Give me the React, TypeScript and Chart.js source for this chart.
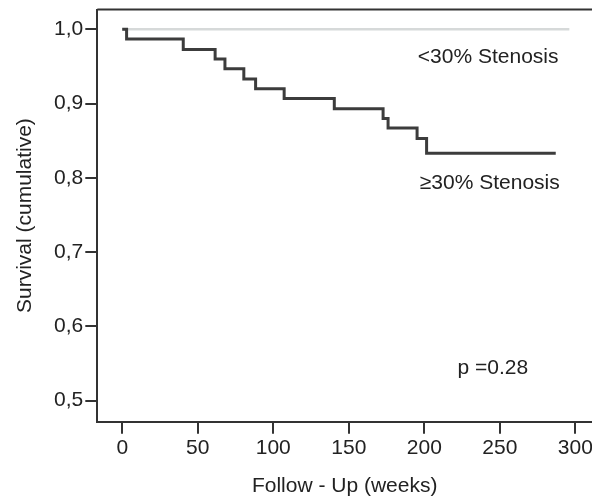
import React, { useEffect, useRef } from "react";
import { Chart, registerables } from "chart.js";

Chart.register(...registerables);

// ≥30% stenosis group: event times (weeks) and cumulative survival after each event
const highWeeks = [0, 2.9, 40.4, 61.5, 68, 80.5, 88.3, 107.2, 140.4, 172.7, 176, 195.2, 201.5];
const highSurvival = [1.0, 0.987, 0.973, 0.96, 0.947, 0.933, 0.92, 0.907, 0.893, 0.88, 0.867, 0.853, 0.833];
const highLastWeek = 287;

// <30% stenosis group: no events
const lowWeeks = [0, 296];
const lowSurvival = [1.0, 1.0];

const xTicks = [0, 50, 100, 150, 200, 250, 300];
const yTicks = [0.5, 0.6, 0.7, 0.8, 0.9, 1.0];

const noteTexts = ["<30% Stenosis", "\u226530% Stenosis", "p =0.28"];
const noteWeeks = [195.7, 197, 222];
const noteSurvival = [0.963, 0.793, 0.5436];

const FONT = "'Liberation Sans', Arial, sans-serif";
const TEXT = "#222222";
const AXIS = "#333333";

function stepPoints(weeks: number[], surv: number[], lastWeek: number) {
  const pts: { x: number; y: number }[] = [];
  for (let i = 0; i < weeks.length; i++) {
    if (i > 0) pts.push({ x: weeks[i], y: surv[i - 1] });
    pts.push({ x: weeks[i], y: surv[i] });
  }
  pts.push({ x: lastWeek, y: surv[surv.length - 1] });
  return pts;
}

const framePlugin = {
  id: "frameAndNotes",
  afterDatasetsDraw(chart: any) {
    const { ctx, chartArea, scales } = chart;
    ctx.save();
    ctx.strokeStyle = AXIS;
    ctx.lineWidth = 2;
    ctx.beginPath();
    ctx.moveTo(chartArea.left, chartArea.top);
    ctx.lineTo(chartArea.right, chartArea.top);
    ctx.stroke();
    ctx.fillStyle = TEXT;
    ctx.font = `21px ${FONT}`;
    ctx.textAlign = "left";
    ctx.textBaseline = "middle";
    noteTexts.forEach((t, i) => {
      ctx.fillText(t, scales.x.getPixelForValue(noteWeeks[i]), scales.y.getPixelForValue(noteSurvival[i]));
    });
    ctx.restore();
  },
};

export default function App() {
  const ref = useRef<HTMLCanvasElement>(null);
  useEffect(() => {
    if (!ref.current) return;
    const chart = new Chart(ref.current, {
      type: "line",
      data: {
        datasets: [
          {
            label: "\u226530% Stenosis",
            data: stepPoints(highWeeks, highSurvival, highLastWeek),
            borderColor: "#3c3c3c",
            borderWidth: 3,
            pointRadius: 0,
            fill: false,
            tension: 0,
            borderJoinStyle: "miter",
          },
          {
            label: "<30% Stenosis",
            data: stepPoints(lowWeeks, lowSurvival, lowWeeks[lowWeeks.length - 1]),
            borderColor: "#d6d9d9",
            borderWidth: 2.5,
            pointRadius: 0,
            fill: false,
            tension: 0,
          },
        ],
      },
      options: {
        animation: false,
        responsive: false,
        devicePixelRatio: 1,
        layout: { padding: { top: 9.5, right: 0, left: 0, bottom: 0 } },
        plugins: { legend: { display: false }, tooltip: { enabled: false } },
        scales: {
          x: {
            type: "linear",
            min: -16.5,
            max: 311,
            afterBuildTicks: (s: any) => {
              s.ticks = xTicks.map((v) => ({ value: v }));
            },
            afterFit: (s: any) => {
              s.height = 77.3;
              s.paddingLeft = 0;
              s.paddingRight = 0;
            },
            ticks: {
              color: TEXT,
              font: { family: FONT, size: 21 },
              padding: 2,
              maxRotation: 0,
              autoSkip: false,
              callback: (v: any) => String(v),
            },
            grid: {
              display: true,
              drawOnChartArea: false,
              drawTicks: true,
              tickLength: 12,
              color: AXIS,
              lineWidth: 2,
            },
            border: { display: true, color: AXIS, width: 2 },
            title: {
              display: true,
              text: "Follow - Up (weeks)",
              color: TEXT,
              font: { family: FONT, size: 21 },
              padding: { top: 0, bottom: 0 },
            },
          },
          y: {
            type: "linear",
            min: 0.4717,
            max: 1.0267,
            afterBuildTicks: (s: any) => {
              s.ticks = yTicks.map((v) => ({ value: v }));
            },
            afterFit: (s: any) => {
              s.width = 97.3;
              s.paddingTop = 0;
              s.paddingBottom = 0;
            },
            ticks: {
              color: TEXT,
              font: { family: FONT, size: 21 },
              padding: 2,
              autoSkip: false,
              callback: (v: any) => Number(v).toFixed(1).replace(".", ","),
            },
            grid: {
              display: true,
              drawOnChartArea: false,
              drawTicks: true,
              tickLength: 12,
              color: AXIS,
              lineWidth: 2,
            },
            border: { display: true, color: AXIS, width: 2 },
            title: {
              display: true,
              text: "Survival (cumulative)",
              color: TEXT,
              font: { family: FONT, size: 21 },
              padding: { top: 12.4, bottom: 0 },
            },
          },
        },
      } as any,
      plugins: [framePlugin],
    });
    return () => chart.destroy();
  }, []);
  return (
    <div style={{ position: "absolute", left: 0, top: 0, width: 592, height: 499, background: "#fff" }}>
      <canvas ref={ref} width={592} height={499} style={{ display: "block", width: 592, height: 499 }} />
    </div>
  );
}
